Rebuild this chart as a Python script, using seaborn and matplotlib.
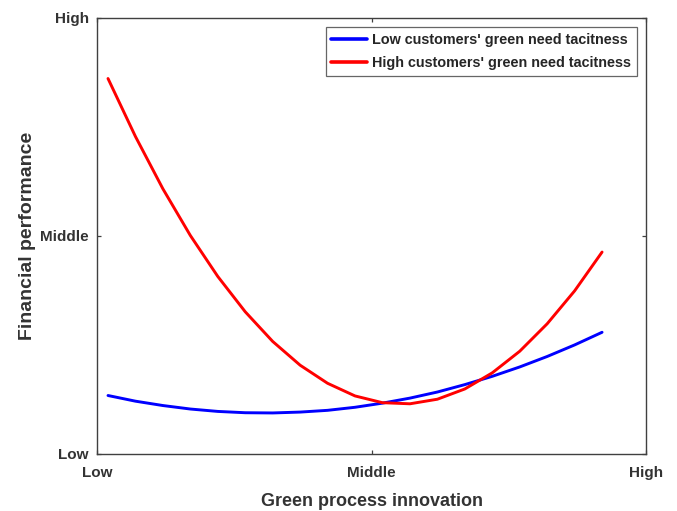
import matplotlib
matplotlib.use("Agg")
import matplotlib.pyplot as plt
import pandas as pd
import seaborn as sns

# values (x: -1 = Low, 0 = Middle, 1 = High; same for y)
x_vals = [-0.96, -0.86, -0.76, -0.66, -0.56, -0.46, -0.36, -0.26, -0.16, -0.06,
          0.04, 0.14, 0.24, 0.34, 0.44, 0.54, 0.64, 0.74, 0.84]
low_tacit = [-0.733, -0.759, -0.779, -0.795, -0.806, -0.812, -0.813, -0.809, -0.801, -0.787,
             -0.768, -0.745, -0.717, -0.683, -0.645, -0.602, -0.554, -0.501, -0.443]
high_tacit = [0.721, 0.455, 0.215, 0.001, -0.187, -0.349, -0.485, -0.594, -0.677, -0.735,
              -0.766, -0.771, -0.750, -0.703, -0.629, -0.530, -0.404, -0.253, -0.075]
series_names = ["Low customers' green need tacitness", "High customers' green need tacitness"]
tick_labels = ["Low", "Middle", "High"]

df = pd.concat([
    pd.DataFrame({"x": x_vals, "y": low_tacit, "group": series_names[0]}),
    pd.DataFrame({"x": x_vals, "y": high_tacit, "group": series_names[1]}),
])

sns.set_theme(style="white")
plt.rcParams['font.family'] = ['Liberation Sans', 'DejaVu Sans']

fig = plt.figure(figsize=(6.77, 5.11), dpi=100)
ax = fig.add_axes([0.1433, 0.1121, 0.8109, 0.8533])

sns.lineplot(data=df, x="x", y="y", hue="group", sort=False, estimator=None,
             palette={series_names[0]: "#0000ff", series_names[1]: "#ff0000"},
             linewidth=2.1, ax=ax)

ax.set_xlim(-1, 1)
ax.set_ylim(-1, 1)
ax.set_xticks([-1, 0, 1])
ax.set_yticks([-1, 0, 1])
ax.set_xticklabels(tick_labels, fontsize=11, fontweight='bold', color='#333333')
ax.set_yticklabels(tick_labels, fontsize=11, fontweight='bold', color='#333333')
ax.tick_params(axis='x', pad=9)
ax.tick_params(axis='y', pad=6)
ax.tick_params(direction='in', length=3, width=0.9, color='#404040',
               top=True, right=True, bottom=True, left=True)

for sp in ax.spines.values():
    sp.set_visible(True)
    sp.set_color('#404040')
    sp.set_linewidth(1.0)

ax.set_xlabel("Green process innovation", fontsize=13, fontweight='bold',
              color='#333333', labelpad=9)
ax.set_ylabel("Financial performance", fontsize=14, fontweight='bold',
              color='#333333', labelpad=0)
ax.yaxis.set_label_coords(-0.111, 0.5)

leg = ax.legend(loc='upper right', fontsize=10.4, frameon=True, fancybox=False,
                edgecolor='#404040', handlelength=2.5, borderpad=0.4,
                labelspacing=0.65, handletextpad=0.3, borderaxespad=0.65)
leg.get_frame().set_linewidth(0.9)
for line in leg.get_lines():
    line.set_linewidth(2.6)
for t in leg.get_texts():
    t.set_fontweight('bold')
    t.set_color('#262626')

fig.savefig("out.png", dpi=100)
